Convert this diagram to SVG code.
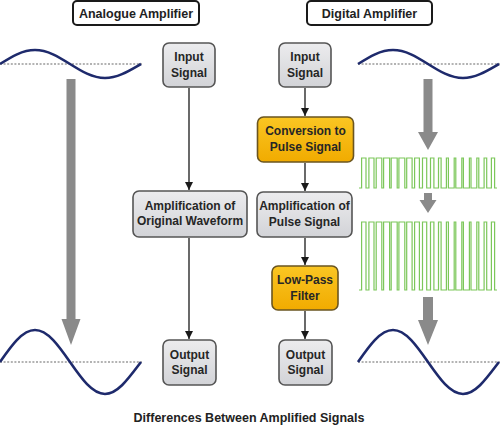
<svg xmlns="http://www.w3.org/2000/svg" width="500" height="428" viewBox="0 0 500 428">
<style>
  .t{font-family:"Liberation Sans",Arial,sans-serif;font-weight:bold;font-size:12px;fill:#262626;text-anchor:middle}
  .title{font-family:"Liberation Sans",Arial,sans-serif;font-weight:bold;font-size:12.5px;fill:#222;text-anchor:middle}
  .tb{fill:#fff;stroke:#1a1a1a;stroke-width:2}
  .gray{fill:url(#gg);stroke:#555;stroke-width:1.6}
  .orange{fill:url(#og);stroke:#6a5520;stroke-width:1.6}
  .conn{stroke:#444;stroke-width:1.6;fill:none}
  .wave{stroke:#1e2a6c;stroke-width:2.6;fill:none}
  .dot{stroke:#9a9a9a;stroke-width:1.3;stroke-dasharray:2 1.6;fill:none}
  .pulse{stroke:#7cc75a;stroke-width:1.2;fill:none}
  .big{fill:#8a8a8a}
</style>
<defs>
  <linearGradient id="gg" x1="0" y1="0" x2="0" y2="1">
    <stop offset="0" stop-color="#ececee"/>
    <stop offset="1" stop-color="#d2d3d7"/>
  </linearGradient>
  <linearGradient id="og" x1="0" y1="0" x2="0" y2="1">
    <stop offset="0" stop-color="#fac623"/>
    <stop offset="1" stop-color="#f1ab00"/>
  </linearGradient>
  <marker id="ah" viewBox="0 0 10 10" refX="10" refY="5" markerWidth="5" markerHeight="5" orient="auto" markerUnits="strokeWidth">
    <path d="M0,0 L10,5 L0,10 z" fill="#1a1a1a"/>
  </marker>
  <path id="sw" d="M0,0 C11.41,-7.17 22.33,-14 35,-14 C47.67,-14 58.59,-7.17 70,0 C81.41,7.17 92.33,14 105,14 C117.67,14 128.59,7.17 141,0"/>
  <path id="bw" d="M0,0 C11.41,-16.39 22.33,-32 35,-32 C47.67,-32 58.59,-16.39 70,0 C81.41,16.39 92.33,32 105,32 C117.67,32 128.59,16.39 141,0"/>
</defs>

<!-- headers -->
<g id="hdr-analog">
  <rect class="tb" x="73" y="1" width="126" height="24" rx="4"/>
  <text class="title" x="136" y="17.5">Analogue Amplifier</text>
</g>
<g id="hdr-digital">
  <rect class="tb" x="307" y="1" width="125" height="24" rx="4"/>
  <text class="title" x="369.5" y="17.5">Digital Amplifier</text>
</g>

<!-- signal waves -->
<g id="waves">
  <line class="dot" x1="0" y1="64" x2="142" y2="64"/>
  <use href="#sw" class="wave" transform="translate(0,64)"/>
  <line class="dot" x1="0" y1="362" x2="142" y2="362"/>
  <use href="#bw" class="wave" transform="translate(0,362)"/>
  <line class="dot" x1="358" y1="64" x2="500" y2="64"/>
  <use href="#sw" class="wave" transform="translate(358,64)"/>
  <line class="dot" x1="358" y1="362" x2="500" y2="362"/>
  <use href="#bw" class="wave" transform="translate(358,362)"/>
</g>

<!-- pulse trains -->
<g id="pulses">
  <path class="pulse" d="M359,188 H361.6 V158 H366 V188 H368.9 V158 H374 V188 H376.2 V158 H381.8 V188 H383.6 V158 H389.6 V188 H391.2 V158 H397.2 V188 H398.9 V158 H404.8 V188 H406.7 V158 H412.1 V188 H414.6 V158 H419.4 V188 H422.5 V158 H426.7 V188 H430.5 V158 H433.9 V188 H438.5 V158 H441.1 V188 H446.4 V158 H448.4 V188 H454.2 V158 H455.8 V188 H461.8 V158 H463.4 V188 H469.4 V158 H471 V188 H476.8 V158 H478.8 V188 H484.1 V158 H486.7 V188 H491.4 V158 H494.6 V188 H497"/>
  <path class="pulse" d="M359,290 H361.6 V222 H366 V290 H368.9 V222 H374 V290 H376.2 V222 H381.8 V290 H383.6 V222 H389.6 V290 H391.2 V222 H397.2 V290 H398.9 V222 H404.8 V290 H406.7 V222 H412.1 V290 H414.6 V222 H419.4 V290 H422.5 V222 H426.7 V290 H430.5 V222 H433.9 V290 H438.5 V222 H441.1 V290 H446.4 V222 H448.4 V290 H454.2 V222 H455.8 V290 H461.8 V222 H463.4 V290 H469.4 V222 H471 V290 H476.8 V222 H478.8 V290 H484.1 V222 H486.7 V290 H491.4 V222 H494.6 V290 H497"/>
</g>

<!-- big gray arrows -->
<g id="gray-arrows">
  <path class="big" d="M66.5,79 H75.5 V319 H80.5 L71,345 L61.5,319 H66.5 Z"/>
  <path class="big" d="M423.5,79 H432.5 V132 H438 L428,150 L418,132 H423.5 Z"/>
  <path class="big" d="M424,193 H432 V200 H436.5 L428,213 L419.5,200 H424 Z"/>
  <path class="big" d="M423,297 H433 V320 H438 L428,345 L418,320 H423 Z"/>
</g>

<!-- connectors -->
<g id="connectors">
  <line class="conn" x1="189" y1="88" x2="189" y2="190" marker-end="url(#ah)"/>
  <line class="conn" x1="189" y1="238" x2="189" y2="339" marker-end="url(#ah)"/>
  <line class="conn" x1="305" y1="88" x2="305" y2="116" marker-end="url(#ah)"/>
  <line class="conn" x1="305" y1="163" x2="305" y2="191" marker-end="url(#ah)"/>
  <line class="conn" x1="305" y1="238" x2="305" y2="265" marker-end="url(#ah)"/>
  <line class="conn" x1="305" y1="311" x2="305" y2="339" marker-end="url(#ah)"/>
</g>

<!-- analog nodes -->
<g id="a-input">
  <rect class="gray" x="163" y="43" width="52" height="44" rx="6"/>
  <text class="t" x="189" y="61">Input</text>
  <text class="t" x="189" y="76.5">Signal</text>
</g>
<g id="a-amp">
  <rect class="gray" x="133" y="191" width="114" height="46" rx="6"/>
  <text class="t" x="190" y="209.5">Amplification of</text>
  <text class="t" x="190" y="225">Original Waveform</text>
</g>
<g id="a-output">
  <rect class="gray" x="163" y="340" width="53" height="45" rx="6"/>
  <text class="t" x="189.5" y="358.5">Output</text>
  <text class="t" x="189.5" y="374">Signal</text>
</g>

<!-- digital nodes -->
<g id="d-input">
  <rect class="gray" x="279" y="43" width="52" height="44" rx="6"/>
  <text class="t" x="305" y="61">Input</text>
  <text class="t" x="305" y="76.5">Signal</text>
</g>
<g id="d-conv">
  <rect class="orange" x="257.5" y="117" width="96" height="45" rx="6"/>
  <text class="t" x="305.5" y="135">Conversion to</text>
  <text class="t" x="305.5" y="150.5">Pulse Signal</text>
</g>
<g id="d-amp">
  <rect class="gray" x="257" y="192" width="95" height="45" rx="6"/>
  <text class="t" x="304.5" y="210">Amplification of</text>
  <text class="t" x="304.5" y="225.5">Pulse Signal</text>
</g>
<g id="d-lpf">
  <rect class="orange" x="272" y="266" width="66" height="44" rx="6"/>
  <text class="t" x="305" y="284">Low-Pass</text>
  <text class="t" x="305" y="299.5">Filter</text>
</g>
<g id="d-output">
  <rect class="gray" x="279" y="340" width="53" height="45" rx="6"/>
  <text class="t" x="305.5" y="358.5">Output</text>
  <text class="t" x="305.5" y="374">Signal</text>
</g>

<text class="title" x="249" y="422">Differences Between Amplified Signals</text>
</svg>
